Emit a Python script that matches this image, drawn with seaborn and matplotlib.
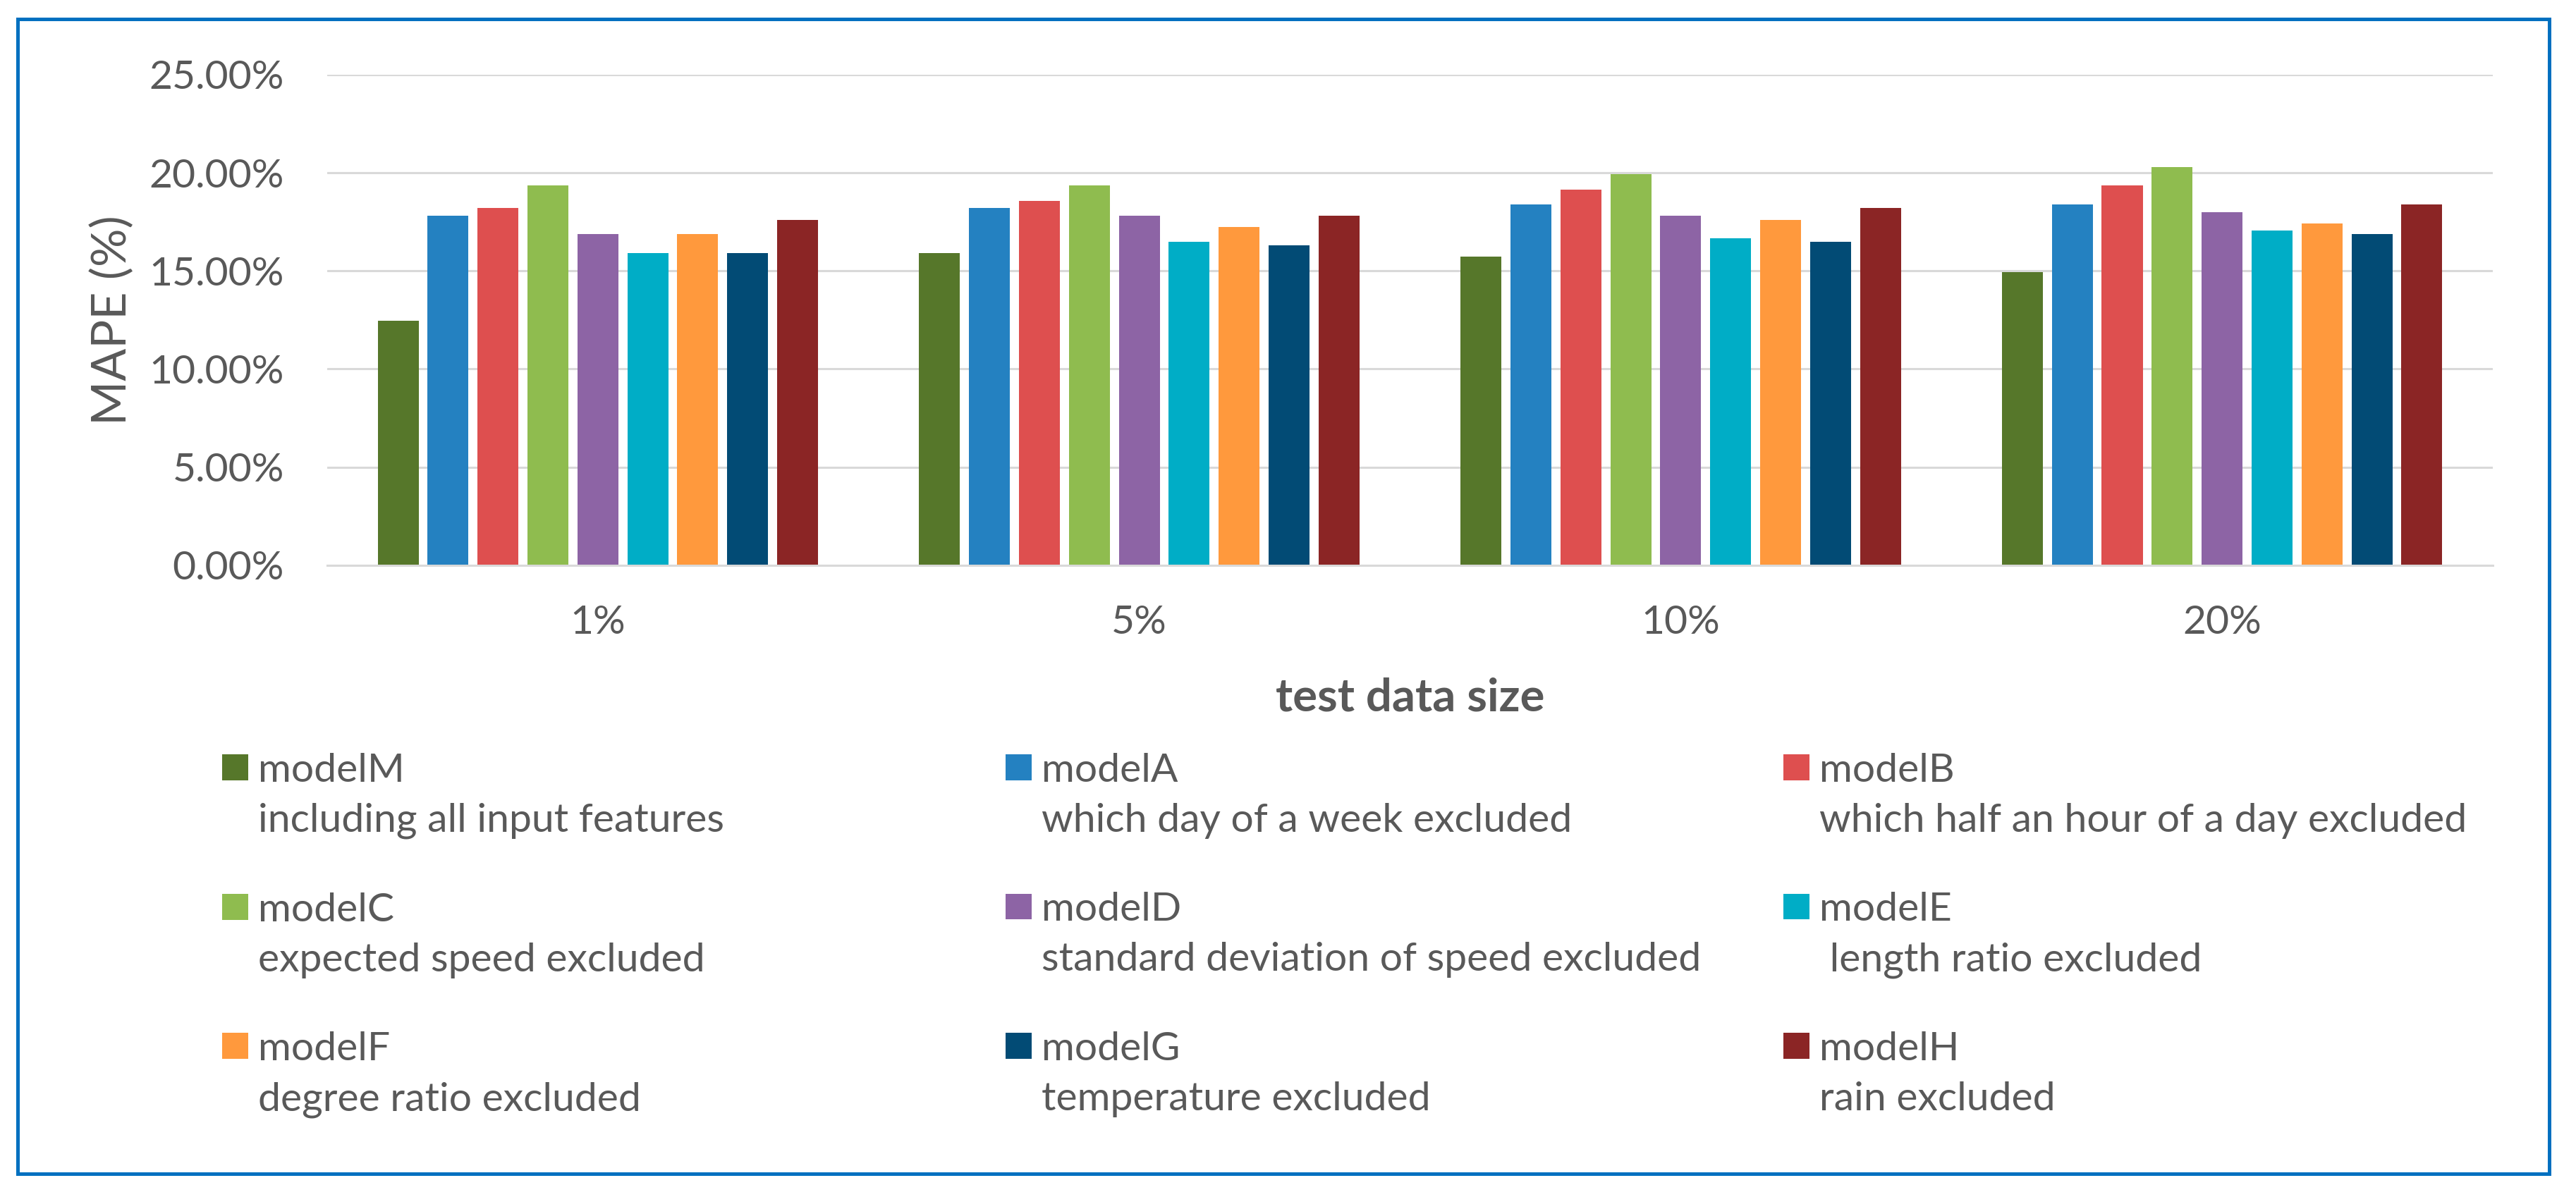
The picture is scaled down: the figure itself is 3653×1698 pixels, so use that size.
import pandas as pd
import seaborn as sns
import matplotlib.pyplot as plt
from matplotlib.patches import Rectangle

# test data sizes and models
sizes = ["1%", "5%", "10%", "20%"]
models = ["modelM", "modelA", "modelB", "modelC", "modelD",
          "modelE", "modelF", "modelG", "modelH"]
descriptions = ["including all input features",
                "which day of a week excluded",
                "which half an hour of a day excluded",
                "expected speed excluded",
                "standard deviation of speed excluded",
                " length ratio excluded",
                "degree ratio excluded",
                "temperature excluded",
                "rain excluded"]
colors = ["#56772A", "#2481C1", "#DE4F4F", "#8FBC4F", "#8D64A5",
          "#00ADC6", "#FF993D", "#024B75", "#8B2525"]

# MAPE (%), one list per test data size
mape_1 = [12.45, 17.81, 18.19, 19.34, 16.87, 15.92, 16.87, 15.92, 17.61]
mape_5 = [15.90, 18.19, 18.58, 19.34, 17.81, 16.47, 17.24, 16.29, 17.81]
mape_10 = [15.71, 18.37, 19.13, 19.92, 17.81, 16.66, 17.61, 16.47, 18.19]
mape_20 = [14.95, 18.37, 19.34, 20.29, 18.00, 17.05, 17.42, 16.87, 18.37]

rows = []
for size, vals in zip(sizes, [mape_1, mape_5, mape_10, mape_20]):
    for m, v in zip(models, vals):
        rows.append({"size": size, "model": m, "mape": v})
df = pd.DataFrame(rows)

sns.set_style("white")
plt.rcParams["font.family"] = ["Lato", "DejaVu Sans"]
text_col = "#595959"
DPI = 100

fig = plt.figure(figsize=(36.53, 16.98), dpi=DPI)
ax = fig.add_axes([0.127, 0.5277, 0.8407, 0.41])

sns.barplot(data=df, x="size", y="mape", hue="model", order=sizes,
            hue_order=models, palette=colors, saturation=1,
            width=0.83, gap=0.18, linewidth=0, ax=ax)

ax.set_ylim(0, 25)
ax.set_yticks([0, 5, 10, 15, 20, 25])
ax.set_yticklabels([f"{t:.2f}%" for t in [0, 5, 10, 15, 20, 25]])
ax.grid(axis="y", color="#D9D9D9", linewidth=2.2)
ax.set_axisbelow(True)
for s in ["top", "right", "left"]:
    ax.spines[s].set_visible(False)
ax.spines["bottom"].set_color("#D9D9D9")
ax.spines["bottom"].set_linewidth(2.2)
ax.tick_params(axis="both", length=0, labelsize=41, colors=text_col)
ax.tick_params(axis="y", pad=44)
ax.tick_params(axis="x", pad=40)

ax.set_ylabel("MAPE (%)", fontsize=49, color=text_col)
ax.yaxis.set_label_coords(-0.089, 0.5)
ax.set_xlabel("test data size", fontsize=47, color=text_col, fontweight="bold")
ax.xaxis.set_label_coords(0.5, -0.27)
ax.xaxis.label.set_va("center")

# legend: 3 columns, filled row by row like the original
handles = ax.legend_.legend_handles
ax.legend_.remove()
labels = [f"{m}\n{d}" for m, d in zip(models, descriptions)]
col_x = [0.0862, 0.3904, 0.6923]
legends = []
for c in range(3):
    idx = [c, c + 3, c + 6]
    leg = fig.legend([handles[i] for i in idx], [labels[i] for i in idx],
                     loc="upper left", bbox_to_anchor=(col_x[c], 0.371),
                     frameon=False, fontsize=41, borderpad=0, borderaxespad=0,
                     handlelength=0.65, handleheight=0.62,
                     handletextpad=0.25, labelspacing=1.33)
    for t in leg.get_texts():
        t.set_color(text_col)
        t.set_linespacing(1.48)
    legends.append(leg)

# move each colour key up so it sits beside the model name (first line)
fig.canvas.draw()
r = fig.canvas.get_renderer()
for leg in legends:
    for t, h in zip(leg.get_texts(), leg.legend_handles):
        tb = t.get_window_extent(r)
        _, lh, ld = r.get_text_width_height_descent("lp", t.get_fontproperties(), ismath=False)
        target = tb.y1 - (lh - ld) + 0.36 * t.get_fontsize() * DPI / 72
        hb = h.get_window_extent(r)
        dy = target - (hb.y0 + hb.y1) / 2
        h.set_y(h.get_y() + dy * 72 / DPI)

# blue frame round the chart
fig.patches.append(Rectangle((25 / 3653, 1 - 1665 / 1698),
                             (3615 - 25) / 3653, (1665 - 27) / 1698,
                             transform=fig.transFigure, fill=False,
                             edgecolor="#0070C0", linewidth=3.6))

fig.savefig("out.png", dpi=DPI, facecolor="white")
